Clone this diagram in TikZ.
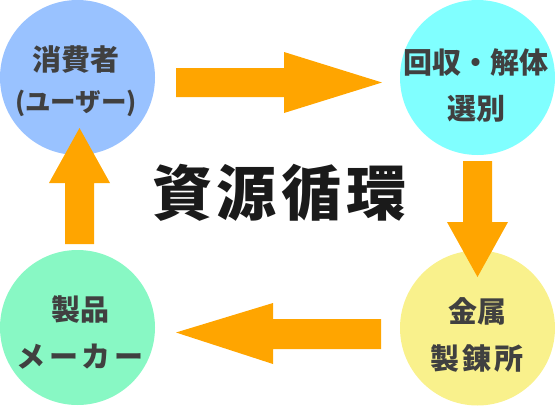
\documentclass[tikz,border=0pt]{standalone}
\usepackage{fontspec}
\newfontfamily\cjk{Noto Sans CJK JP}
\newfontfamily\cjkls{Noto Sans CJK JP}[LetterSpace=12]
\definecolor{cblue}{HTML}{99C2FF}
\definecolor{ccyan}{HTML}{80FFFF}
\definecolor{cyellow}{HTML}{F9F18C}
\definecolor{cgreen}{HTML}{88F8C4}
\definecolor{corange}{HTML}{FFA500}
\definecolor{ctext}{HTML}{404040}
\definecolor{ctitle}{HTML}{1A1A1A}
\tikzset{
  bubble/.style={circle, minimum size=155pt, inner sep=0pt, draw=none},
  lbl/.style={inner sep=0pt, text=ctext, font=\cjk\bfseries\fontsize{29}{32}\selectfont},
  blockarrow/.style={fill=corange, draw=none},
}
\begin{document}
\begin{tikzpicture}[x=1pt,y=-1pt]
\useasboundingbox (0,0) rectangle (555,405);
\node[bubble, fill=cblue]   (cons) at (77.5,77.5) {};
\node[bubble, fill=ccyan]   (coll) at (477.5,77.5) {};
\node[bubble, fill=cyellow] (smel) at (477.5,328) {};
\node[bubble, fill=cgreen]  (maker) at (77.5,327.5) {};
% arrows
\fill[blockarrow] (176,68) -- (284,68) -- (284,52) -- (382,82.5) -- (284,113) -- (284,97) -- (176,97) -- cycle;
\fill[blockarrow] (463,161) -- (492,161) -- (492,222) -- (508,222) -- (477.5,277) -- (447,222) -- (463,222) -- cycle;
\fill[blockarrow] (381,319) -- (273,319) -- (273,303) -- (176,332.5) -- (273,364) -- (273,349) -- (381,349) -- cycle;
\fill[blockarrow] (65,244) -- (65,183) -- (49,183) -- (79.5,128) -- (110,183) -- (94,183) -- (94,244) -- cycle;
% labels
\node[lbl] (cons1) at (76,60) {消費者};
\node[lbl, font=\cjk\bfseries\fontsize{25.5}{28}\selectfont] (cons2) at (76,103) {(ユーザー)};
\node[lbl] (coll1) at (476,62) {回収・解体};
\node[lbl] (coll2) at (476,109) {選別};
\node[lbl] (smel1) at (477,311) {金属};
\node[lbl, font=\cjkls\bfseries\fontsize{29}{32}\selectfont] (smel2) at (477,359) {製錬所};
\node[lbl] (mak1) at (80,310) {製品};
\node[lbl, font=\cjkls\bfseries\fontsize{29}{32}\selectfont] (mak2) at (80,357) {メーカー};
\node[inner sep=0pt, text=ctitle, font=\cjk\bfseries\fontsize{60}{64}\selectfont] (title) at (279.5,192.5) {資\hspace{5pt}源\hspace{5pt}循\hspace{5pt}環};
\end{tikzpicture}
\end{document}
